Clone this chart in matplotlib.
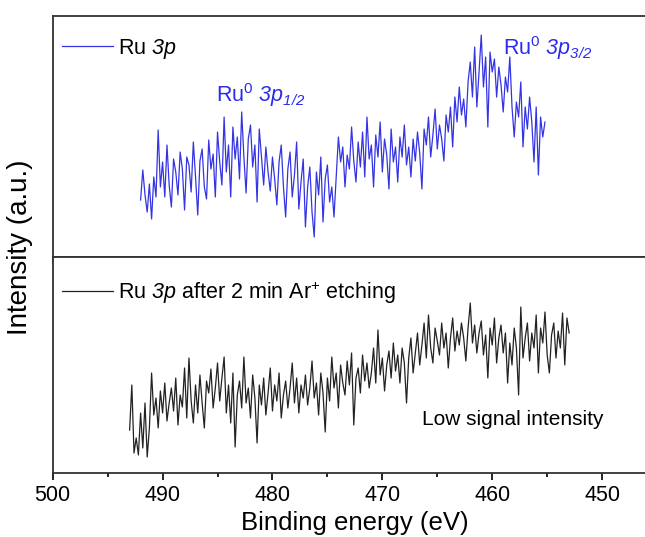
import numpy as np
import matplotlib
matplotlib.use("Agg")
from matplotlib import pyplot as plt

plt.rcParams['font.family'] = ['Liberation Sans', 'DejaVu Sans']
plt.rcParams['mathtext.fontset'] = 'custom'
plt.rcParams['mathtext.rm'] = 'Liberation Sans'
# italic digits too: use the sf slot for italic text
plt.rcParams['mathtext.sf'] = 'Liberation Sans:italic'

# binding energy range of each scan (eV), 0.2 eV steps
top_start, top_end = 492.0, 455.2
bot_start, bot_end = 493.0, 453.0

# Ru 3p (as received), intensity in a.u.
ru3p = [57, 87, 62, 45, 73, 38, 80, 60, 127, 70,
        95, 60, 112, 72, 50, 98, 85, 62, 105, 88,
        47, 100, 92, 65, 115, 80, 42, 96, 108, 70,
        58, 117, 88, 103, 60, 125, 95, 72, 140, 85,
        112, 60, 130, 98, 120, 78, 145, 100, 64, 118,
        132, 90, 112, 55, 128, 100, 72, 110, 85, 66,
        100, 78, 52, 95, 112, 70, 40, 88, 105, 60,
        82, 115, 48, 75, 98, 30, 70, 90, 45, 20,
        85, 62, 100, 35, 78, 92, 55, 70, 40, 80,
        120, 95, 110, 70, 102, 88, 130, 96, 75, 115,
        90, 125, 80, 140, 98, 112, 70, 122, 100, 135,
        85, 118, 102, 68, 128, 95, 110, 75, 120, 100,
        132, 92, 110, 80, 118, 96, 125, 104, 68, 128,
        112, 140, 100, 122, 148, 108, 132, 118, 96, 142,
        125, 150, 110, 160, 135, 170, 142, 158, 130, 175,
        195, 160, 210, 150, 185, 222, 170, 200, 130, 205,
        185, 198, 160, 190, 172, 145, 180, 165, 200, 150,
        120, 155, 140, 175, 110, 150, 128, 160, 135, 95,
        150, 82, 140, 120, 135]

# Ru 3p after 2 min Ar+ etching
ru3p_etched = [43, 88, 20, 35, 18, 60, 25, 70, 16, 45,
               100, 58, 75, 45, 82, 60, 90, 52, 70, 85,
               62, 95, 48, 78, 66, 105, 55, 115, 72, 50,
               88, 60, 98, 70, 45, 92, 80, 104, 65, 85,
               110, 72, 95, 116, 60, 88, 50, 100, 26, 78,
               92, 65, 116, 70, 85, 55, 98, 75, 30, 88,
               68, 95, 58, 80, 105, 62, 88, 72, 100, 55,
               78, 92, 65, 85, 110, 70, 95, 60, 88, 75,
               98, 68, 85, 112, 75, 90, 58, 100, 80, 41,
               95, 72, 116, 85, 100, 65, 108, 90, 78, 112,
               88, 120, 48, 95, 105, 80, 118, 92, 110, 85,
               100, 125, 90, 143, 98, 115, 82, 108, 122, 95,
               130, 102, 118, 90, 125, 110, 70, 115, 135, 100,
               120, 140, 108, 128, 150, 115, 158, 125, 110, 145,
               132, 118, 150, 125, 140, 105, 135, 155, 122, 142,
               128, 150, 135, 112, 145, 170, 130, 148, 120, 140,
               152, 118, 138, 95, 145, 128, 155, 110, 135, 148,
               120, 140, 90, 130, 108, 145, 125, 78, 166, 115,
               135, 150, 112, 140, 125, 158, 100, 145, 130, 161,
               118, 100, 138, 150, 115, 142, 125, 160, 108, 155,
               140]

x_top = np.linspace(top_start, top_end, len(ru3p))
x_bot = np.linspace(bot_start, bot_end, len(ru3p_etched))

fig = plt.figure(figsize=(6.45, 5.37), dpi=100)
ax1 = fig.add_axes([0.0817, 0.5214, 0.937, 0.4488])
ax2 = fig.add_axes([0.0817, 0.1192, 0.937, 0.4022])

ax1.plot(x_top, ru3p, color='#3434e4', lw=0.9, label='Ru $\\mathsf{3p}$')
ax2.plot(x_bot, ru3p_etched, color='#222222', lw=0.9,
         label='Ru $\\mathsf{3p}$ after 2 min Ar$^{+}$ etching')

for ax, ytop in ((ax1, 0.913), (ax2, 0.898)):
    ax.set_xlim(500, 445)
    ax.set_xticks([500, 490, 480, 470, 460, 450])
    ax.set_xticks([495, 485, 475, 465, 455], minor=True)
    ax.set_yticks([])
    ax.tick_params(axis='x', which='major', length=5, width=1.2, direction='out', labelsize=15.5)
    ax.tick_params(axis='x', which='minor', length=3, width=1.2, direction='out')
    for s in ax.spines.values():
        s.set_linewidth(1.3)
        s.set_color('#333333')
    ax.legend(loc='upper left', bbox_to_anchor=(0.0149, ytop), frameon=False,
              fontsize=15.5, handlelength=2.4, handletextpad=0.2,
              borderaxespad=0, borderpad=0)

ax1.set_ylim(0, 241)
ax2.set_ylim(0, 216)
ax1.tick_params(axis='x', labelbottom=False)

ax1.text(485.1, 162, 'Ru$^{0}$ $\\mathsf{3p}_{\\mathsf{1/2}}$', color='#2b2be8',
         fontsize=15.5, va='center', ha='left')
ax1.text(459.0, 209, 'Ru$^{0}$ $\\mathsf{3p}_{\\mathsf{3/2}}$', color='#2b2be8',
         fontsize=15.5, va='center', ha='left')
ax2.text(466.4, 53, 'Low signal intensity', fontsize=15, va='center', ha='left')

ax2.set_xlabel('Binding energy (eV)', fontsize=18.5, labelpad=4)
fig.text(0.031, 0.54, 'Intensity (a.u.)', rotation=90, fontsize=20, va='center', ha='center')

fig.savefig('out.png', dpi=100)
